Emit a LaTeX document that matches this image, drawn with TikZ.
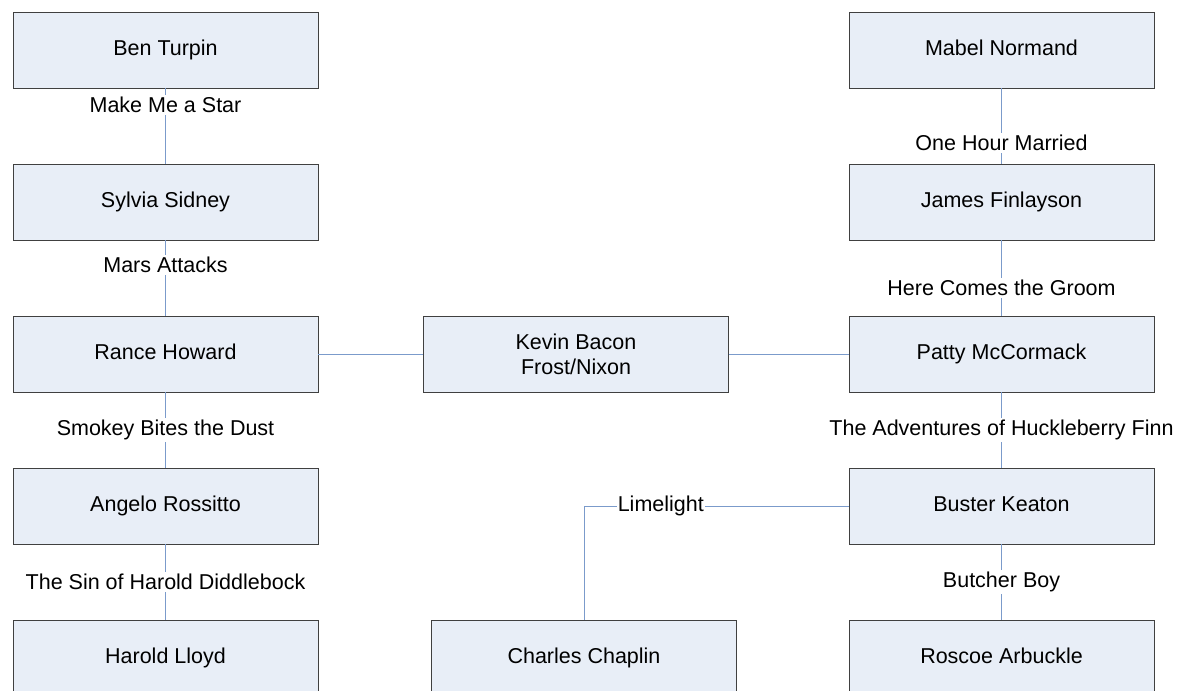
\documentclass[tikz,border=0pt]{standalone}
\usepackage{fontspec}
\setmainfont{Liberation Sans}
\definecolor{boxfill}{HTML}{E8EEF7}
\definecolor{boxline}{HTML}{404040}
\definecolor{linkline}{HTML}{7B9BCB}
\begin{document}
\begin{tikzpicture}[x=1pt, y=-1pt, lbl/.style={inner sep = 2pt, fill = white, font=\fontsize{21.5}{25}\selectfont}]
\tikzstyle{box}=[rectangle, draw=boxline, fill=boxfill, minimum width=305pt, minimum height=76pt, inner sep=0pt, align=center, font=\fontsize{21.5}{25}\selectfont]
\tikzstyle{actor}=[box, text height=15.5pt, text depth=4.5pt]
\tikzstyle{link}=[draw=linkline, line width=0.8pt]
\useasboundingbox (0,0) rectangle (1190,690);
% left chain
\node[actor] (BT) at (165.5,50){Ben Turpin};
\node[actor] (SS) at (165.5,202){Sylvia Sidney};
\node[actor] (RH) at (165.5,354){Rance Howard};
\node[actor] (AR) at (165.5,506){Angelo Rossitto};
\node[actor] (HL) at (165.5,658){Harold Lloyd};
% right chain
\node[actor] (MN) at (1001.5,50){Mabel Normand};
\node[actor] (JF) at (1001.5,202){James Finlayson};
\node[actor] (PM) at (1001.5,354){Patty McCormack};
\node[actor] (BK) at (1001.5,506){Buster Keaton};
\node[actor] (RA) at (1001.5,658){Roscoe Arbuckle};
% middle
\node[box] (KB) at (576,354){Kevin Bacon\\Frost/Nixon};
\node[actor] (CC) at (584,658){Charles Chaplin};
\foreach \i/\j/\k/\p in {BT/SS/Make Me a Star/0.22, SS/RH/Mars Attacks/0.33, RH/AR/Smokey Bites the Dust/0.5, AR/HL/The Sin of Harold Diddlebock/0.5, MN/JF/One Hour Married/0.72, JF/PM/Here Comes the Groom/0.63, PM/BK/The Adventures of Huckleberry Finn/0.5, BK/RA/Butcher Boy/0.5}{\draw[link] (\i) --node[lbl, pos=\p]{\k} (\j);}
\draw[link] (RH) -- (KB);
\draw[link] (KB) -- (PM);
\draw[link] (BK) -| (CC)
  node[pos=0.355, inner sep = 1pt, fill = white, font=\fontsize{21.5}{25}\selectfont]{Limelight};
\end{tikzpicture}
\end{document}
